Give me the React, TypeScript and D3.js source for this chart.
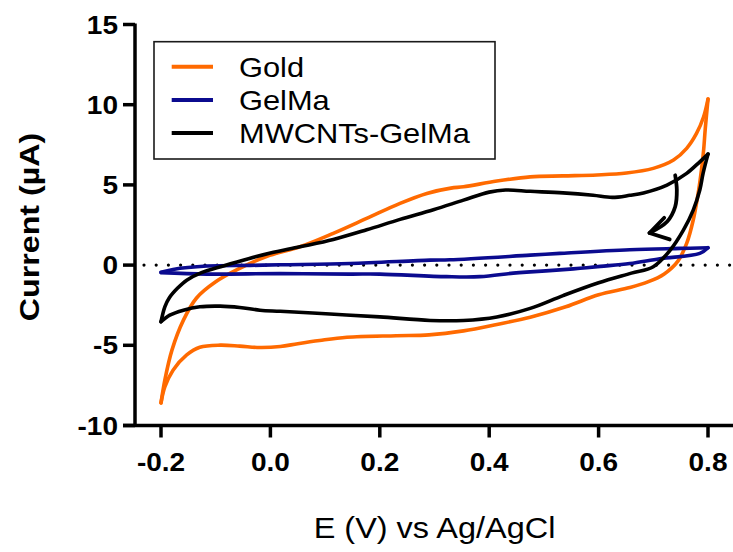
import React from 'react';
import { scaleLinear, line, curveCatmullRom, range } from 'd3';

// cyclic voltammograms, one loop per film: forward scan then reverse scan
const goldE = [-0.2, -0.193, -0.18, -0.159, -0.135, -0.1, -0.06, -0.006, 0.054, 0.115, 0.176, 0.237, 0.286, 0.33, 0.353, 0.414, 0.475, 0.535, 0.597, 0.651, 0.7, 0.737, 0.761, 0.779, 0.792, 0.8,
  0.795, 0.792, 0.788, 0.782, 0.773, 0.761, 0.745, 0.72, 0.69, 0.657, 0.6, 0.54, 0.475, 0.414, 0.353, 0.29, 0.23, 0.14, 0.09, 0.05, 0.018, -0.02, -0.056, -0.092, -0.129, -0.153, -0.178, -0.193, -0.2];
const goldI = [-8.59, -7.17, -5.3, -3.43, -2.05, -1.04, -0.27, 0.55, 1.14, 1.98, 2.91, 3.85, 4.47, 4.8, 4.88, 5.24, 5.5, 5.56, 5.62, 5.74, 6.03, 6.55, 7.28, 8.21, 9.25, 10.35,
  8.5, 7.17, 5.93, 4.47, 2.81, 1.35, 0.25, -0.55, -1.05, -1.4, -1.85, -2.6, -3.25, -3.7, -4.1, -4.35, -4.4, -4.5, -4.7, -4.9, -5.08, -5.14, -5.05, -4.99, -5.12, -5.6, -6.55, -7.6, -8.59];

const gelmaE = [-0.2, -0.178, -0.116, -0.037, 0.018, 0.146, 0.292, 0.328, 0.475, 0.529, 0.657, 0.75, 0.8,
  0.785, 0.712, 0.657, 0.603, 0.566, 0.529, 0.475, 0.444, 0.383, 0.322, 0.2, 0.146, 0.018, -0.116, -0.2];
const gelmaI = [-0.45, -0.27, -0.06, -0.02, 0.02, 0.1, 0.31, 0.33, 0.62, 0.73, 0.96, 1.04, 1.08,
  0.73, 0.4, 0.1, -0.08, -0.2, -0.3, -0.42, -0.5, -0.72, -0.72, -0.56, -0.56, -0.53, -0.56, -0.47];

const mwcntE = [-0.2, -0.193, -0.185, -0.17, -0.153, -0.126, -0.086, -0.04, 0, 0.054, 0.115, 0.176, 0.237, 0.298, 0.353, 0.4, 0.43, 0.475, 0.535, 0.59, 0.625, 0.657, 0.682, 0.725, 0.761, 0.785, 0.8,
  0.791, 0.785, 0.773, 0.755, 0.731, 0.7, 0.66, 0.6, 0.535, 0.475, 0.414, 0.353, 0.292, 0.2, 0.109, 0.018, -0.019, -0.056, -0.092, -0.129, -0.159, -0.184, -0.2];
const mwcntI = [-3.53, -2.6, -2.05, -1.45, -0.94, -0.47, -0.05, 0.4, 0.75, 1.14, 1.6, 2.2, 2.85, 3.45, 4.05, 4.55, 4.68, 4.6, 4.5, 4.35, 4.22, 4.35, 4.5, 4.99, 5.72, 6.44, 6.92,
  5.72, 4.68, 3.43, 2.18, 0.94, -0.1, -0.5, -1.1, -1.9, -2.7, -3.23, -3.45, -3.45, -3.23, -3.05, -2.88, -2.81, -2.64, -2.56, -2.6, -2.81, -3.12, -3.53];

const seriesNames = ['Gold', 'GelMa', 'MWCNTs-GelMa'];
const seriesColors = ['#ff6a00', '#0b0b8f', '#000000'];

const xTicks = [-0.2, 0.0, 0.2, 0.4, 0.6, 0.8];
const yTicks = [-10, -5, 0, 5, 10, 15];

// scan direction arrow (data units)
const arrowE = [0.74, 0.743, 0.74, 0.725, 0.693];
const arrowI = [5.6, 4.68, 3.64, 2.7, 2.0];
const arrowHeadE = [0.72, 0.693, 0.73];
const arrowHeadI = [2.95, 2.0, 1.6];

const W = 733;
const H = 552;
const axisX = 135;
const font = '"Liberation Sans", Arial, Helvetica, sans-serif';

const x = scaleLinear().domain([-0.2, 0.8]).range([161, 708]);
const y = scaleLinear().domain([-10, 15]).range([425.5, 24.5]);

const smooth = line<[number, number]>()
  .x(d => x(d[0]))
  .y(d => y(d[1]))
  .curve(curveCatmullRom.alpha(0.5));

const straight = line<[number, number]>()
  .x(d => x(d[0]))
  .y(d => y(d[1]));

// split a loop at the vertex (max potential) so the turn stays sharp
const branches = (E: number[], I: number[]) => {
  const pts: [number, number][] = E.map((e, i) => [e, I[i]]);
  let k = 0;
  E.forEach((e, i) => { if (e > E[k]) k = i; });
  return [pts.slice(0, k + 1), pts.slice(k)];
};

const loops = [
  branches(goldE, goldI),
  branches(gelmaE, gelmaI),
  branches(mwcntE, mwcntI),
];

const App = () => {
  const y0 = y(0);
  const yBottom = y(-10);
  return (
    <svg width={W} height={H} style={{ position: 'absolute', left: 0, top: 0, background: '#fff' }} fontFamily={font}>
      {/* zero line */}
      <line x1={144} x2={W} y1={y0} y2={y0} stroke="#000" strokeWidth={3.2}
        strokeDasharray="0 12.2" strokeLinecap="round" />

      {loops.map((br, i) => (
        <g key={seriesNames[i]} fill="none" stroke={seriesColors[i]} strokeWidth={3.6}
          strokeLinecap="round" strokeLinejoin="round">
          {br.map((b, j) => <path key={j} d={smooth(b) || ''} />)}
        </g>
      ))}

      {/* arrow */}
      <g fill="none" stroke="#000" strokeWidth={3.8} strokeLinecap="round" strokeLinejoin="round">
        <path d={smooth(arrowE.map((e, i) => [e, arrowI[i]] as [number, number])) || ''} />
        <path d={straight(arrowHeadE.map((e, i) => [e, arrowHeadI[i]] as [number, number])) || ''} />
      </g>

      {/* axes */}
      <g stroke="#000" strokeWidth={3.5}>
        <line x1={axisX} x2={axisX} y1={y(15) - 1} y2={yBottom} />
        <line x1={123} x2={W} y1={yBottom} y2={yBottom} />
        {yTicks.map(t => <line key={t} x1={123} x2={axisX} y1={y(t)} y2={y(t)} />)}
        {xTicks.map(t => <line key={t} x1={x(t)} x2={x(t)} y1={yBottom} y2={yBottom + 12} />)}
      </g>

      {yTicks.map(t => (
        <text key={t} transform={`translate(118, ${y(t) + 9}) scale(1.12, 1)`} textAnchor="end"
          fontSize={25} fontWeight="bold">{t}</text>
      ))}
      {xTicks.map(t => (
        <text key={t} transform={`translate(${x(t)}, 471) scale(1.12, 1)`} textAnchor="middle"
          fontSize={25} fontWeight="bold">{t.toFixed(1)}</text>
      ))}

      <text transform="translate(38.5, 227) rotate(-90) scale(1.15, 1)" textAnchor="middle"
        fontSize={28} fontWeight="bold">Current (µA)</text>
      <text transform="translate(434.5, 538) scale(1.12, 1)" textAnchor="middle" fontSize={29}>
        E (V) vs Ag/AgCl</text>

      {/* legend */}
      <rect x={154} y={41.7} width={341} height={117.3} fill="#fff" stroke="#1a1a1a" strokeWidth={1.6} />
      {range(seriesNames.length).map(i => (
        <g key={i}>
          <line x1={171.7} x2={213} y1={66.7 + i * 33.2} y2={66.7 + i * 33.2}
            stroke={seriesColors[i]} strokeWidth={4} />
          <text transform={`translate(239, ${77 + i * 33.2}) scale(1.08, 1)`} fontSize={28.5}>
            {seriesNames[i]}</text>
        </g>
      ))}
    </svg>
  );
};

export default App;
